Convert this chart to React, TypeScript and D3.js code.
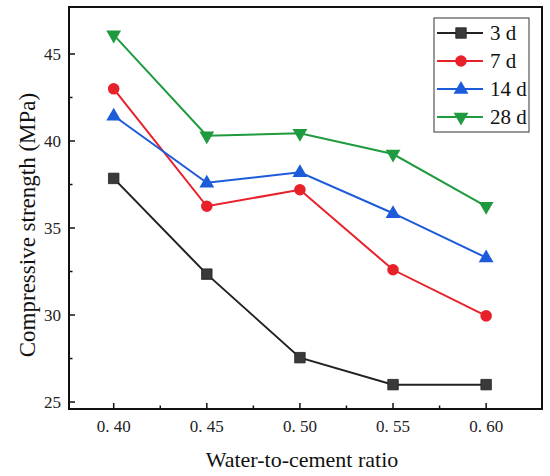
import React, { useEffect, useRef } from 'react'
import * as d3 from 'd3'

// water-to-cement ratios on the x axis
const ratios = [0.4, 0.45, 0.5, 0.55, 0.6]

// compressive strength (MPa) per curing age
const strength3d = [37.85, 32.35, 27.55, 26.0, 26.0]
const strength7d = [43.0, 36.25, 37.2, 32.6, 29.95]
const strength14d = [41.45, 37.6, 38.2, 35.85, 33.3]
const strength28d = [46.1, 40.3, 40.45, 39.25, 36.25]

const seriesNames = ['3 d', '7 d', '14 d', '28 d']

const xMajor = [0.4, 0.45, 0.5, 0.55, 0.6]
const xMinor = [0.425, 0.475, 0.525, 0.575]
const yMajor = [25, 30, 35, 40, 45]
const yMinor = [27.5, 32.5, 37.5, 42.5]

const FONT = '"Liberation Serif", "DejaVu Serif", serif'

const App: React.FC = () => {
  const svgRef = useRef<SVGSVGElement>(null)

  useEffect(() => {
    if (!svgRef.current) return
    const svg = d3.select(svgRef.current)
    svg.selectAll('*').remove()

    const left = 69
    const right = 542
    const top = 7
    const bottom = 409

    const x = d3.scaleLinear().domain([0.376, 0.63]).range([left, right])
    const y = d3.scaleLinear().domain([24.6, 47.7]).range([bottom, top])

    svg.append('rect')
      .attr('width', 550)
      .attr('height', 476)
      .attr('fill', '#fff')

    const series = [
      { name: seriesNames[0], values: strength3d, color: '#222222', fill: '#3a3a3a', shape: 'square' },
      { name: seriesNames[1], values: strength7d, color: '#e8202a', fill: '#e8202a', shape: 'circle' },
      { name: seriesNames[2], values: strength14d, color: '#1c5bd9', fill: '#1c5bd9', shape: 'up' },
      { name: seriesNames[3], values: strength28d, color: '#1f9a3e', fill: '#1f9a3e', shape: 'down' }
    ]

    const symbolPath = (shape: string) => {
      if (shape === 'square') return d3.symbol(d3.symbolSquare, 110)()
      if (shape === 'circle') return d3.symbol(d3.symbolCircle, 105)()
      return d3.symbol(d3.symbolTriangle, 95)()
    }
    const shapeTransform = (shape: string) => (shape === 'down' ? ' rotate(180)' : shape === 'up' ? ' translate(0,0.5)' : '')

    // ticks (inward)
    const tickG = svg.append('g').attr('stroke', '#111').attr('stroke-width', 1.5)
    xMajor.forEach(v => {
      tickG.append('line').attr('x1', x(v)).attr('x2', x(v)).attr('y1', bottom).attr('y2', bottom - 6)
    })
    xMinor.forEach(v => {
      tickG.append('line').attr('x1', x(v)).attr('x2', x(v)).attr('y1', bottom).attr('y2', bottom - 3.5)
    })
    yMajor.forEach(v => {
      tickG.append('line').attr('x1', left).attr('x2', left + 6).attr('y1', y(v)).attr('y2', y(v))
    })
    yMinor.forEach(v => {
      tickG.append('line').attr('x1', left).attr('x2', left + 3.5).attr('y1', y(v)).attr('y2', y(v))
    })

    // tick labels
    const fmt = d3.format('.2f')
    svg.append('g')
      .selectAll('text')
      .data(xMajor)
      .enter()
      .append('text')
      .attr('x', d => x(d))
      .attr('y', 432)
      .attr('text-anchor', 'middle')
      .style('font-family', FONT)
      .style('font-size', '17px')
      .attr('fill', '#222')
      .text(d => fmt(d).replace('.', '. '))

    svg.append('g')
      .selectAll('text')
      .data(yMajor)
      .enter()
      .append('text')
      .attr('x', 61)
      .attr('y', d => y(d) + 6)
      .attr('text-anchor', 'end')
      .style('font-family', FONT)
      .style('font-size', '17px')
      .attr('fill', '#222')
      .text(d => String(d))

    // lines and markers
    const line = d3.line<number>()
      .x((d, i) => x(ratios[i]))
      .y(d => y(d))

    series.forEach(s => {
      svg.append('path')
        .datum(s.values)
        .attr('d', line)
        .attr('fill', 'none')
        .attr('stroke', s.color)
        .attr('stroke-width', 2)

      svg.append('g')
        .selectAll('path')
        .data(s.values)
        .enter()
        .append('path')
        .attr('d', symbolPath(s.shape))
        .attr('transform', (d, i) => `translate(${x(ratios[i])},${y(d)})${shapeTransform(s.shape)}`)
        .attr('fill', s.fill)
        .attr('stroke', s.shape === 'square' ? '#222' : 'none')
        .attr('stroke-width', 0.8)
    })

    // frame
    svg.append('rect')
      .attr('x', left)
      .attr('y', top)
      .attr('width', right - left)
      .attr('height', bottom - top)
      .attr('fill', 'none')
      .attr('stroke', '#111')
      .attr('stroke-width', 2)

    // legend
    const legend = svg.append('g')
    legend.append('rect')
      .attr('x', 434)
      .attr('y', 18)
      .attr('width', 95)
      .attr('height', 114)
      .attr('fill', '#fff')
      .attr('stroke', '#555')
      .attr('stroke-width', 1.2)

    const rowY = d3.scalePoint<string>().domain(seriesNames).range([33, 117])
    series.forEach(s => {
      const cy = rowY(s.name) as number
      legend.append('line')
        .attr('x1', 437)
        .attr('x2', 483)
        .attr('y1', cy)
        .attr('y2', cy)
        .attr('stroke', s.color)
        .attr('stroke-width', 2)
      legend.append('path')
        .attr('d', symbolPath(s.shape))
        .attr('transform', `translate(461,${cy})${shapeTransform(s.shape)}`)
        .attr('fill', s.fill)
        .attr('stroke', s.shape === 'square' ? '#222' : 'none')
        .attr('stroke-width', 0.8)
      legend.append('text')
        .attr('x', 490)
        .attr('y', cy + 7)
        .style('font-family', FONT)
        .style('font-size', '21px')
        .attr('fill', '#111')
        .text(s.name)
    })

    // axis titles
    svg.append('text')
      .attr('x', 302)
      .attr('y', 467)
      .attr('text-anchor', 'middle')
      .style('font-family', FONT)
      .style('font-size', '22px')
      .attr('fill', '#111')
      .text('Water-to-cement ratio')

    svg.append('text')
      .attr('transform', 'translate(35,225) rotate(-90)')
      .attr('text-anchor', 'middle')
      .style('font-family', FONT)
      .style('font-size', '23px')
      .attr('fill', '#111')
      .text('Compressive strength (MPa)')
  }, [])

  return (
    <div style={{ position: 'absolute', left: 0, top: 0, width: 550, height: 476 }}>
      <svg ref={svgRef} width={550} height={476}></svg>
    </div>
  )
}

export default App
